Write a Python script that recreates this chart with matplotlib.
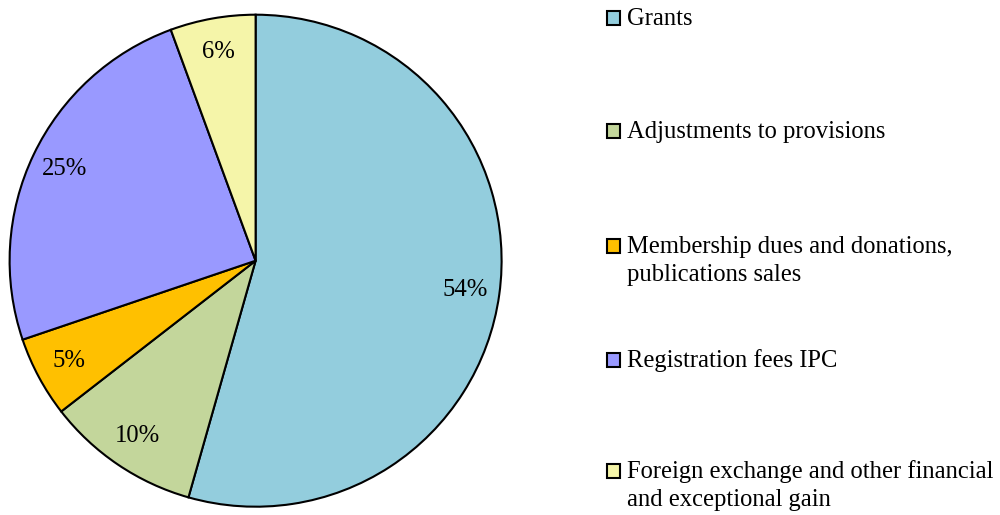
import matplotlib.pyplot as plt
from matplotlib.patches import Rectangle

plt.rcParams['font.family'] = ['Liberation Serif', 'DejaVu Serif']

labels = ["Grants", "Adjustments to provisions",
          "Membership dues and donations,\npublications sales",
          "Registration fees IPC",
          "Foreign exchange and other financial\nand exceptional gain"]
shares = [54.4, 10.1, 5.3, 24.6, 5.6]
colors = ["#93CDDD", "#C3D69B", "#FFC000", "#9999FF", "#F5F5A9"]

W, H = 1000, 515
fig = plt.figure(figsize=(W / 100, H / 100), dpi=100)

# pie area: centre ~ (256, 261) px, radius ~246 px
cx, cy, r_px = 255.6, 260.7, 246
ax = fig.add_axes([(cx - r_px) / W, (H - cy - r_px) / H, 2 * r_px / W, 2 * r_px / H])
wedges, texts, autotexts = ax.pie(
    shares, colors=colors, startangle=90, counterclock=False,
    autopct='%1.0f%%', pctdistance=0.86, radius=1.0,
    wedgeprops=dict(edgecolor='black', linewidth=1.5),
    textprops=dict(fontsize=17.7, color='black'))
ax.set_xlim(-1.0, 1.0)
ax.set_ylim(-1.0, 1.0)
ax.set_aspect('equal')

# legend drawn by hand so two-line labels align with the first line
baselines = [25, 138, 253, 367, 478]
for lab, col, yb in zip(labels, colors, baselines):
    fig.patches.append(Rectangle((607 / W, (H - yb) / H), 13 / W, 14 / H,
                                 transform=fig.transFigure, facecolor=col,
                                 edgecolor='black', linewidth=1.5))
    lines = lab.split("\n")
    for i, line in enumerate(lines):
        fig.text(627 / W, (H - yb - 28 * i) / H, line, fontsize=17.7,
                 va='baseline', ha='left')

fig.savefig("out.png", dpi=100)
